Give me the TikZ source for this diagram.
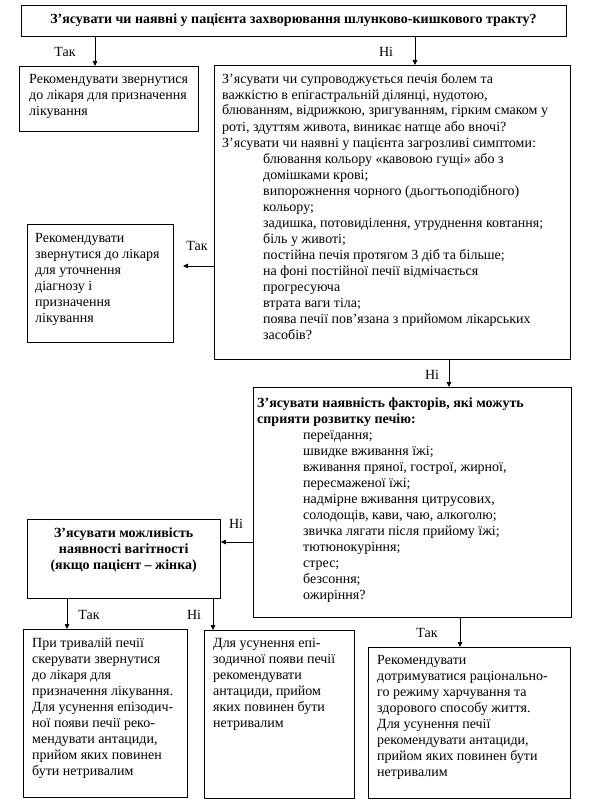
\documentclass[tikz,border=0pt]{standalone}
\usepackage{fontspec}
\setmainfont{Liberation Serif}
\usetikzlibrary{arrows.meta}
\newcommand{\ia}{\hspace*{41pt}}
\newcommand{\ib}{\hspace*{46pt}}
\begin{document}
\begin{tikzpicture}[x=1pt,y=-1pt,
  box/.style={draw,line width=0.8pt,inner sep=0pt,anchor=north west},
  txt/.style={anchor=base west,inner sep=0pt,font=\fontsize{14}{16}\selectfont},
  lbl/.style={inner sep=0pt,font=\fontsize{14}{16}\selectfont},
  arr/.style={line width=0.8pt,-{Triangle[length=5pt,width=4.5pt]}}]
\useasboundingbox (0,0) rectangle (600,800);
% boxes
\node[box,minimum width=545pt,minimum height=31pt] (q1) at (21,5) {};
\node[box,minimum width=179pt,minimum height=65pt] (r1) at (19,66) {};
\node[box,minimum width=356pt,minimum height=294pt] (q2) at (214,65) {};
\node[box,minimum width=146pt,minimum height=118pt] (r2) at (27,224) {};
\node[box,minimum width=318pt,minimum height=230pt] (q3) at (253,387) {};
\node[box,minimum width=193pt,minimum height=79pt] (q4) at (27,519) {};
\node[box,minimum width=164pt,minimum height=168pt] (r3) at (23,629) {};
\node[box,minimum width=150pt,minimum height=168pt] (r4) at (204,630) {};
\node[box,minimum width=202pt,minimum height=151pt] (r5) at (368,647) {};
% texts
\node[lbl,font=\fontsize{14}{16}\selectfont\bfseries] (q1t) at (293.5,20) {З’ясувати чи наявні у пацієнта захворювання шлунково-кишкового тракту?};
\node[txt] (r1t) at (29,84) {\parbox[t]{170pt}{\raggedright
Рекомендувати звернутися\\
до лікаря для призначення\\
лікування}};
\node[txt] (q2t) at (222,83) {\parbox[t]{345pt}{\raggedright
З’ясувати чи супроводжується печія болем та\\
важкістю в епігастральній ділянці, нудотою,\\
блюванням, відрижкою, зригуванням, гірким смаком у\\
роті, здуттям живота, виникає натще або вночі?\\
З’ясувати чи наявні у пацієнта загрозливі симптоми:\\
\ia блювання кольору «кавовою гущі» або з\\
\ia домішками крові;\\
\ia випорожнення чорного (дьогтьоподібного)\\
\ia кольору;\\
\ia задишка, потовиділення, утруднення ковтання;\\
\ia біль у животі;\\
\ia постійна печія протягом 3 діб та більше;\\
\ia на фоні постійної печії відмічається\\
\ia прогресуюча\\
\ia втрата ваги тіла;\\
\ia поява печії пов’язана з прийомом лікарських\\
\ia засобів?}};
\node[txt] (r2t) at (35,242) {\parbox[t]{140pt}{\raggedright
Рекомендувати\\
звернутися до лікаря\\
для уточнення\\
діагнозу і\\
призначення\\
лікування}};
\node[txt] (q3t) at (257,407) {\parbox[t]{310pt}{\raggedright
\textbf{З’ясувати наявність факторів, які можуть}\\
\textbf{сприяти розвитку печію:}\\
\ib переїдання;\\
\ib швидке вживання їжі;\\
\ib вживання пряної, гострої, жирної,\\
\ib пересмаженої їжі;\\
\ib надмірне вживання цитрусових,\\
\ib солодощів, кави, чаю, алкоголю;\\
\ib звичка лягати після прийому їжі;\\
\ib тютюнокуріння;\\
\ib стрес;\\
\ib безсоння;\\
\ib ожиріння?}};
\node[txt] (q4t) at (27,537) {\parbox[t]{193pt}{\centering\bfseries
З’ясувати можливість\\
наявності вагітності\\
(якщо пацієнт – жінка)}};
\node[txt] (r3t) at (32,647) {\parbox[t]{155pt}{\raggedright
При тривалій печії\\
скерувати звернутися\\
до лікаря для\\
призначення лікування.\\
Для усунення епізодич-\\
ної появи печії реко-\\
мендувати антациди,\\
прийом яких повинен\\
бути нетривалим}};
\node[txt] (r4t) at (213,647) {\parbox[t]{140pt}{\raggedright
Для усунення епі-\\
зодичної появи печії\\
рекомендувати\\
антациди, прийом\\
яких повинен бути\\
нетривалим}};
\node[txt] (r5t) at (377,664) {\parbox[t]{195pt}{\raggedright
Рекомендувати\\
дотримуватися раціонально-\\
го режиму харчування та\\
здорового способу життя.\\
Для усунення печії\\
рекомендувати антациди,\\
прийом яких повинен бути\\
нетривалим}};
% labels
\node[lbl] (t1) at (65,52) {Так};
\node[lbl] (n1) at (386,52) {Ні};
\node[lbl] (t2) at (197,246) {Так};
\node[lbl] (n2) at (432,375) {Ні};
\node[lbl] (n3) at (236,524) {Ні};
\node[lbl] (t3) at (89,615) {Так};
\node[lbl] (n4) at (194,615) {Ні};
\node[lbl] (t4) at (427,633) {Так};
% connectors
\coordinate (c1) at (95,0);
\coordinate (c2) at (415,0);
\coordinate (c3) at (183,266);
\coordinate (c4) at (449,0);
\coordinate (c5) at (0,542);
\coordinate (c6) at (67,0);
\coordinate (c7) at (213,0);
\coordinate (c8) at (460,0);
\draw[arr] (q1.south -| c1) -- (r1.north -| c1);
\draw[arr] (q1.south -| c2) -- (q2.north -| c2);
\draw[arr] (q2.west |- c3) -- (c3);
\draw[arr] (q2.south -| c4) -- (q3.north -| c4);
\draw[arr] (q3.west |- c5) -- (q4.east |- c5);
\draw[arr] (q4.south -| c6) -- (r3.north -| c6);
\draw[arr] (q4.south -| c7) -- (r4.north -| c7);
\draw[arr] (q3.south -| c8) -- (r5.north -| c8);
\end{tikzpicture}
\end{document}
